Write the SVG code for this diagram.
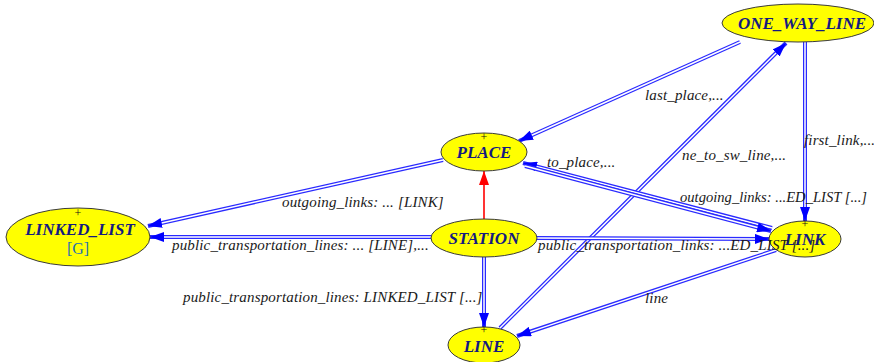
<svg xmlns="http://www.w3.org/2000/svg" width="874" height="362" viewBox="0 0 874 362">
  <style>
    .o { fill: none; stroke: #2a2aff; stroke-width: 4; stroke-linecap: butt; }
    .i { fill: none; stroke: #ffffff; stroke-width: 1.5; stroke-linecap: butt; }
    .red { fill: none; stroke: #ff0000; stroke-width: 1.6; }
    .lbl { font-family: "Liberation Serif", "DejaVu Serif", serif; font-style: italic; font-size: 15px; letter-spacing: 0.15px; fill: #1a1a1a; }
    .lbl.tight { font-size: 14.6px; letter-spacing: 0; }
    .node ellipse { fill: #ffff00; stroke: #3a3a3a; stroke-width: 1; }
    .name { font-family: "Liberation Serif", "DejaVu Serif", serif; font-style: italic; font-weight: bold; font-size: 17px; fill: #141a80; text-anchor: middle; }
    .plus { font-family: "Liberation Serif", "DejaVu Serif", serif; font-size: 12px; fill: #141414; text-anchor: middle; }
    .gen { font-family: "Liberation Serif", "DejaVu Serif", serif; font-size: 16px; fill: #1f6fb0; text-anchor: middle; }
  </style>
  <defs>
    <marker id="ah" markerUnits="userSpaceOnUse" markerWidth="14" markerHeight="10" refX="14" refY="5" orient="auto">
      <path d="M0,0 L14,5 L0,10 z" fill="#0000ff"/>
    </marker>
    <marker id="ahr" markerUnits="userSpaceOnUse" markerWidth="14" markerHeight="10" refX="14" refY="5" orient="auto">
      <path d="M0,0 L14,5 L0,10 z" fill="#ff0000"/>
    </marker>
  </defs>

  <rect width="874" height="362" fill="#ffffff"/>

  <g id="connectors">
    <!-- ONE_WAY_LINE -> PLACE -->
    <path class="o" d="M740,42 L519,141" marker-end="url(#ah)"/>
    <path class="i" d="M740,42 L531.8,135.3"/>
    <!-- ONE_WAY_LINE -> LINK -->
    <path class="o" d="M805,42 L805,221" marker-end="url(#ah)"/>
    <path class="i" d="M805,42 L805,207"/>
    <!-- LINE -> ONE_WAY_LINE -->
    <path class="o" d="M500,328 L786,43" marker-end="url(#ah)"/>
    <path class="i" d="M500,328 L776,53"/>
    <!-- PLACE -> LINKED_LIST -->
    <path class="o" d="M443,160 L148,226" marker-end="url(#ah)"/>
    <path class="i" d="M443,160 L161.7,222.9"/>
    <!-- LINK -> PLACE -->
    <path class="o" d="M772,228 L523,163" marker-end="url(#ah)"/>
    <path class="i" d="M772,228 L536.5,166.5"/>
    <!-- PLACE -> LINK -->
    <path class="o" d="M525,166 L771,231" marker-end="url(#ah)"/>
    <path class="i" d="M525,166 L757.5,227.4"/>
    <!-- STATION -> PLACE -->
    <path class="red" d="M484,219 L484,171" marker-end="url(#ahr)"/>
    <!-- STATION -> LINKED_LIST -->
    <path class="o" d="M431,237 L150,237" marker-end="url(#ah)"/>
    <path class="i" d="M431,237 L164,237"/>
    <!-- STATION -> LINK -->
    <path class="o" d="M537,238 L769,239" marker-end="url(#ah)"/>
    <path class="i" d="M537,238 L755,239"/>
    <!-- STATION -> LINE -->
    <path class="o" d="M484,257 L484,327" marker-end="url(#ah)"/>
    <path class="i" d="M484,257 L484,313"/>
    <!-- LINK -> LINE -->
    <path class="o" d="M776,250 L517,336" marker-end="url(#ah)"/>
    <path class="i" d="M776,250 L530.3,331.6"/>
  </g>

  <g id="node-one-way-line" class="node">
    <ellipse cx="798" cy="23" rx="76" ry="19"/>
    <text class="name" x="802" y="29">ONE_WAY_LINE</text>
  </g>
  <g id="node-place" class="node">
    <ellipse cx="484" cy="152" rx="43" ry="19"/>
    <text class="plus" x="484" y="141">+</text>
    <text class="name" x="484" y="158">PLACE</text>
  </g>
  <g id="node-linked-list" class="node">
    <ellipse cx="78" cy="237" rx="72" ry="29"/>
    <text class="plus" x="78" y="217">+</text>
    <text class="name" x="80" y="235">LINKED_LIST</text>
    <text class="gen" x="78" y="254">[G]</text>
  </g>
  <g id="node-station" class="node">
    <ellipse cx="484" cy="238" rx="53" ry="19"/>
    <text class="name" x="484" y="244">STATION</text>
  </g>
  <g id="node-link" class="node">
    <ellipse cx="805" cy="239" rx="36" ry="18"/>
    <text class="plus" x="805" y="228">+</text>
    <text class="name" x="805" y="245">LINK</text>
  </g>
  <g id="node-line" class="node">
    <ellipse cx="484" cy="345" rx="36" ry="18"/>
    <text class="plus" x="484" y="334">+</text>
    <text class="name" x="484" y="352">LINE</text>
  </g>

  <g id="edge-labels">
    <text class="lbl" x="645" y="100">last_place,...</text>
    <text class="lbl" x="804" y="145">first_link,...</text>
    <text class="lbl" x="682" y="160">ne_to_sw_line,...</text>
    <text class="lbl" x="282" y="207">outgoing_links: ... [LINK]</text>
    <text class="lbl" x="547" y="167">to_place,...</text>
    <text class="lbl tight" x="680" y="202">outgoing_links: ...ED_LIST [...]</text>
    <text class="lbl" x="172" y="250">public_transportation_lines: ... [LINE],...</text>
    <text class="lbl" x="538" y="250">public_transportation_links: ...ED_LIST [...]</text>
    <text class="lbl" x="183" y="302">public_transportation_lines: LINKED_LIST [...]</text>
    <text class="lbl" x="645" y="303">line</text>
  </g>
</svg>
